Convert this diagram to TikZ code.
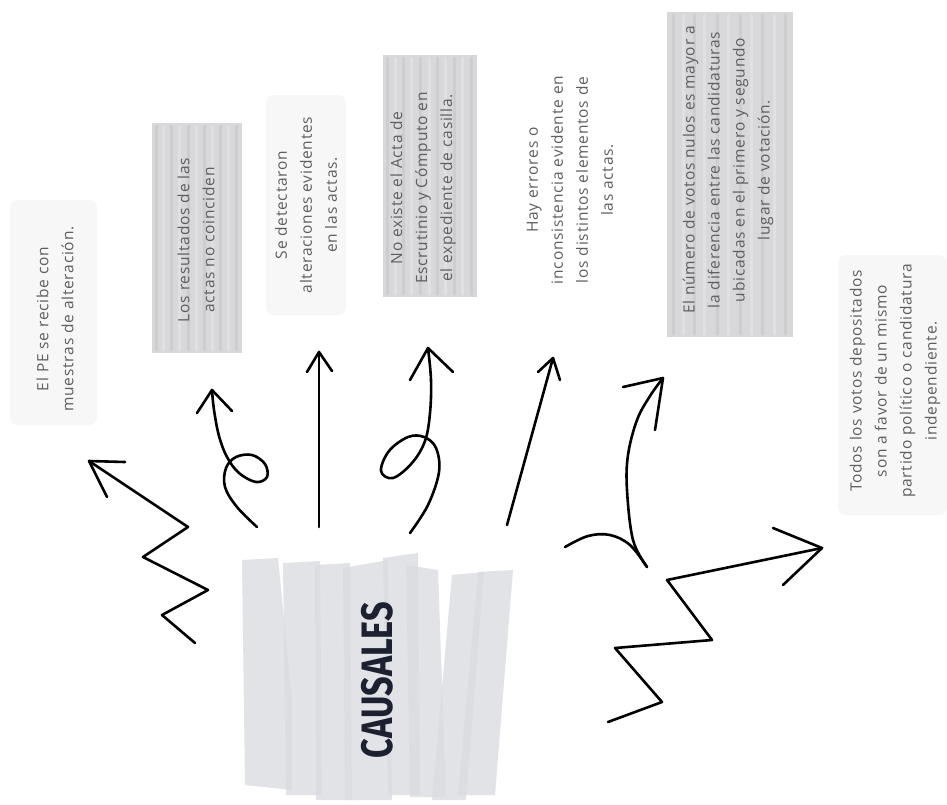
\documentclass[tikz,border=0pt]{standalone}
\usepackage{fontspec}
\setmainfont{Open Sans}[LetterSpace=5]
\newfontfamily\causalfont{Fira Sans}
\usetikzlibrary{calc}
\definecolor{txtgray}{HTML}{5E5E60}
\definecolor{boxgray}{HTML}{D8D8DA}
\definecolor{streakdark}{HTML}{CDCDD0}
\definecolor{streaklight}{HTML}{E0E0E2}
\definecolor{faintgray}{HTML}{F7F7F7}
\definecolor{causgray}{HTML}{DADCE2}
\definecolor{causink}{HTML}{1C2030}
\newcommand\mkbox[4]{%
  \fill[boxgray] (#1,#2) rectangle (#3,#4);
  \foreach \f/\c in {0.05/streakdark,0.13/streaklight,0.22/streakdark,0.30/streaklight,0.40/streakdark,0.49/streaklight,0.58/streakdark,0.67/streaklight,0.76/streakdark,0.85/streaklight,0.94/streakdark}{
    \draw[\c, line width=3pt, line cap=round] ({#1+\f*(#3-#1)},{#2+3}) -- ({#1+\f*(#3-#1)},{#4-3});
  }%
}
\tikzset{
  txt/.style={rotate=90, align=center, text=txtgray, inner sep=0pt,
    font=\fontsize{15.5}{25}\selectfont},
  hand/.style={line width=2.6pt, line cap=round, line join=round, black},
  caus/.style={fill=causgray, opacity=0.8}
}
\begin{document}
\begin{tikzpicture}[x=1pt,y=-1pt]
\path[use as bounding box, fill=white] (0,0) rectangle (947,804);

% faint backgrounds
\fill[faintgray, rounded corners=8pt] (10,200) rectangle (97,425);
\fill[faintgray, rounded corners=8pt] (266,95) rectangle (346,315);
\fill[faintgray, rounded corners=8pt] (838,255) rectangle (947,515);

% marker boxes
\mkbox{152}{123}{242}{353}
\mkbox{383}{55}{477}{297}
\mkbox{667}{12}{793}{337}

% CAUSALES block
\fill[caus] (242,560) -- (278,558) -- (292,700) -- (292,790) -- (245,785) -- cycle;
\fill[caus] (283,563) -- (320,561) -- (322,795) -- (286,795) -- cycle;
\fill[caus] (315,565) -- (350,563) -- (352,800) -- (316,800) -- cycle;
\fill[caus] (343,568) -- (388,560) -- (392,800) -- (345,800) -- cycle;
\fill[caus] (383,558) -- (418,553) -- (420,795) -- (388,795) -- cycle;
\fill[caus] (406,565) -- (438,570) -- (446,797) -- (410,797) -- cycle;
\fill[caus] (452,575) -- (484,572) -- (466,800) -- (432,800) -- cycle;
\fill[caus] (478,572) -- (513,570) -- (495,795) -- (458,795) -- cycle;
\node[rotate=90, text=causink, inner sep=0pt] (causales) at (377,680)
  {\scalebox{0.78}[1]{\causalfont\bfseries\fontsize{44}{44}\selectfont CAUSALES}};

% texts
\node[txt] (t1) at (55,319) {El PE se recibe con\\muestras de alteración.};
\node[txt] (t2) at (196,240) {Los resultados de las\\actas no coinciden};
\node[txt] (t3) at (306,205) {Se detectaron\\alteraciones evidentes\\en las actas.};
\node[txt] (t4) at (423,188) {No existe el Acta de\\Escrutinio y Cómputo en\\el expediente de casilla.};
\node[txt] (t5) at (570,180) {Hay errores o\\inconsistencia evidente en\\los distintos elementos de\\las actas.};
\node[txt] (t6) at (728,170) {El número de votos nulos es mayor a\\la diferencia entre las candidaturas\\ubicadas en el primero y segundo\\lugar de votación.};
\node[txt] (t7) at (895,381) {Todos los votos depositados\\son a favor de un mismo\\partido político o candidatura\\independiente.};

% arrow end points
\coordinate (s1) at (195,643); \coordinate (e1) at (89,461);
\coordinate (s2) at (257,527); \coordinate (e2) at (212,390);
\coordinate (s3) at (319,527); \coordinate (e3) at (319,352);
\coordinate (s4) at (410,533); \coordinate (e4) at (428,348);
\coordinate (s5) at (507,525); \coordinate (e5) at (553,358);
\coordinate (s6) at (647,567); \coordinate (e6) at (663,378);
\coordinate (s7) at (608,722); \coordinate (e7) at (822,548);

% 1: zigzag
\draw[hand] (s1) -- (162,615) -- (208,590) -- (143,557) -- (188,527) -- (e1);
\draw[hand] (125,462) -- (e1) -- (107,497);

% 2: loop
\draw[hand] plot[smooth, tension=0.6] coordinates {(s2) (237,507) (225,487) (226,468) (236,457) (252,455) (265,464) (267,477) (256,482) (239,473) (227,457) (219,436) (214,410) (e2)};
\draw[hand] (197,413) -- (e2) -- (232,411);

% 3: straight
\draw[hand] (s3) -- (e3);
\draw[hand] (307,372) -- (e3) -- (332,371);

% 4: loop
\draw[hand] plot[smooth, tension=0.6] coordinates {(s4) (428,505) (439,472) (436,448) (424,437) (408,437) (389,451) (381,471) (393,478) (412,463) (425,441) (430,413) (431,380) (e4)};
\draw[hand] (410,380) -- (e4) -- (453,372);

% 5: straight slanted
\draw[hand] (s5) -- (e5);
\draw[hand] (538,372) -- (e5) -- (560,380);

% 6: curved with side branch
\draw[hand] plot[smooth, tension=0.6] coordinates {(s6) (633,540) (627,490) (628,455) (637,420) (650,396) (e6)};
\draw[hand] plot[smooth, tension=0.6] coordinates {(565,547) (588,536) (610,535) (630,545) (s6)};
\draw[hand] (623,387) -- (e6) -- (655,430);

% 7: zigzag
\draw[hand] (s7) -- (662,702) -- (615,648) -- (712,640) -- (667,580) -- (e7);
\draw[hand] (773,528) -- (e7) -- (783,585);
\end{tikzpicture}
\end{document}
